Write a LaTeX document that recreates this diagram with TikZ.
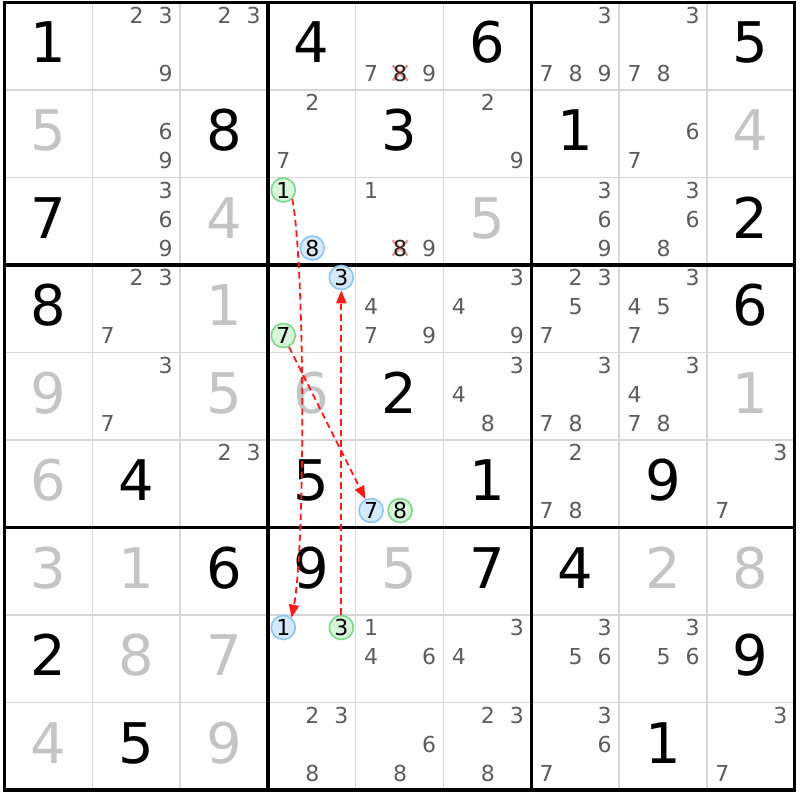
\documentclass[tikz,border=0pt]{standalone}
\usepackage{fontspec}
\setmainfont{DejaVu Sans}
\usetikzlibrary{arrows.meta,calc}
\definecolor{solved}{HTML}{C4C4C4}
\definecolor{candc}{HTML}{5C5C5C}
\definecolor{gridgrey}{HTML}{D6D6D6}
\definecolor{gdraw}{HTML}{7ED88B}
\definecolor{gfill}{HTML}{D6F5D9}
\definecolor{bdraw}{HTML}{8EC4F2}
\definecolor{bfill}{HTML}{D5E9FB}
\definecolor{arrred}{HTML}{FF1A1A}
\definecolor{xred}{HTML}{F29090}
\tikzset{
  given/.style={anchor=base,inner sep=0pt,font=\fontsize{56}{60}\selectfont,text=black},
  solvedd/.style={given,text=solved},
  cand/.style={inner sep=0pt,font=\fontsize{22}{24}\selectfont,text=candc},
  xcand/.style={cand,text=black!85},
  gc/.style={cand,text=black,circle,draw=gdraw,fill=gfill,line width=1.6pt,minimum size=24pt},
  bc/.style={cand,text=black,circle,draw=bdraw,fill=bfill,line width=1.6pt,minimum size=24pt},
  arr/.style={draw=arrred,line width=1.8pt,dash pattern=on 6.5pt off 4pt,-{Triangle[length=13pt,width=10pt,fill=arrred]}},
  xmark/.style={draw=xred,line width=2.5pt},
  thingrid/.style={draw=gridgrey,line width=1.5pt},
  thickgrid/.style={draw=black,line width=3.2pt},
}
\newcommand\GV[4][given]{%
  \pgfmathsetmacro\gx{4.5+87.8*#3+43.9}%
  \pgfmathsetmacro\gy{2.5+87.5*#2+60.5}%
  \node[#1] (g#2#3) at (\gx,\gy) {#4};}
\newcommand\CD[4][cand]{%
  \pgfmathsetmacro\cx{4.5+87.8*#3+15.4+29*mod(#4-1,3)}%
  \pgfmathsetmacro\cy{2.5+87.5*#2+12.5+29*floor((#4-1)/3)}%
  \node[#1] (c#2#3#4) at (\cx,\cy) {#4};}
\newcommand\XM[3]{%
  \pgfmathsetmacro\cx{4.5+87.8*#2+15.4+29*mod(#3-1,3)}%
  \pgfmathsetmacro\cy{2.5+87.5*#1+12.5+29*floor((#3-1)/3)}%
  \draw[xmark] ({\cx-7.5},{\cy-7.5}) -- ({\cx+7.5},{\cy+7.5});
  \draw[xmark] ({\cx-7.5},{\cy+7.5}) -- ({\cx+7.5},{\cy-7.5});}
\begin{document}
\begin{tikzpicture}[x=1pt,y=-1pt]
\fill[white] (0,0) rectangle (800,800);
\useasboundingbox (0,0) rectangle (800,800);
% thin grid
\foreach \i in {1,2,4,5,7,8}{
  \draw[thingrid] ({4.5+87.8*\i},2.5) -- ({4.5+87.8*\i},790);
  \draw[thingrid] (4.5,{2.5+87.5*\i}) -- (794.7,{2.5+87.5*\i});
}
\foreach \i in {0,3,6,9}{
  \draw[thickgrid] ({4.5+87.8*\i},0.9) -- ({4.5+87.8*\i},791.6);
  \draw[thickgrid] (2.9,{2.5+87.5*\i}) -- (796.3,{2.5+87.5*\i});
}
% row 0
\GV{0}{0}{1}
\foreach \d in {2,3,9}{\CD{0}{1}{\d}}
\foreach \d in {2,3}{\CD{0}{2}{\d}}
\GV{0}{3}{4}
\CD{0}{4}{7}\XM{0}{4}{8}\CD[xcand]{0}{4}{8}\CD{0}{4}{9}
\GV{0}{5}{6}
\foreach \d in {3,7,8,9}{\CD{0}{6}{\d}}
\foreach \d in {3,7,8}{\CD{0}{7}{\d}}
\GV{0}{8}{5}
% row 1
\GV[solvedd]{1}{0}{5}
\foreach \d in {6,9}{\CD{1}{1}{\d}}
\GV{1}{2}{8}
\foreach \d in {2,7}{\CD{1}{3}{\d}}
\GV{1}{4}{3}
\foreach \d in {2,9}{\CD{1}{5}{\d}}
\GV{1}{6}{1}
\foreach \d in {6,7}{\CD{1}{7}{\d}}
\GV[solvedd]{1}{8}{4}
% row 2
\GV{2}{0}{7}
\foreach \d in {3,6,9}{\CD{2}{1}{\d}}
\GV[solvedd]{2}{2}{4}
\CD[gc]{2}{3}{1}\CD[bc]{2}{3}{8}
\CD{2}{4}{1}\XM{2}{4}{8}\CD[xcand]{2}{4}{8}\CD{2}{4}{9}
\GV[solvedd]{2}{5}{5}
\foreach \d in {3,6,9}{\CD{2}{6}{\d}}
\foreach \d in {3,6,8}{\CD{2}{7}{\d}}
\GV{2}{8}{2}
% row 3
\GV{3}{0}{8}
\foreach \d in {2,3,7}{\CD{3}{1}{\d}}
\GV[solvedd]{3}{2}{1}
\CD[bc]{3}{3}{3}\CD[gc]{3}{3}{7}
\foreach \d in {4,7,9}{\CD{3}{4}{\d}}
\foreach \d in {3,4,9}{\CD{3}{5}{\d}}
\foreach \d in {2,3,5,7}{\CD{3}{6}{\d}}
\foreach \d in {3,4,5,7}{\CD{3}{7}{\d}}
\GV{3}{8}{6}
% row 4
\GV[solvedd]{4}{0}{9}
\foreach \d in {3,7}{\CD{4}{1}{\d}}
\GV[solvedd]{4}{2}{5}
\GV[solvedd]{4}{3}{6}
\GV{4}{4}{2}
\foreach \d in {3,4,8}{\CD{4}{5}{\d}}
\foreach \d in {3,7,8}{\CD{4}{6}{\d}}
\foreach \d in {3,4,7,8}{\CD{4}{7}{\d}}
\GV[solvedd]{4}{8}{1}
% row 5
\GV[solvedd]{5}{0}{6}
\GV{5}{1}{4}
\foreach \d in {2,3}{\CD{5}{2}{\d}}
\GV{5}{3}{5}
\CD[bc]{5}{4}{7}\CD[gc]{5}{4}{8}
\GV{5}{5}{1}
\foreach \d in {2,7,8}{\CD{5}{6}{\d}}
\GV{5}{7}{9}
\foreach \d in {3,7}{\CD{5}{8}{\d}}
% row 6
\GV[solvedd]{6}{0}{3}
\GV[solvedd]{6}{1}{1}
\GV{6}{2}{6}
\GV{6}{3}{9}
\GV[solvedd]{6}{4}{5}
\GV{6}{5}{7}
\GV{6}{6}{4}
\GV[solvedd]{6}{7}{2}
\GV[solvedd]{6}{8}{8}
% row 7
\GV{7}{0}{2}
\GV[solvedd]{7}{1}{8}
\GV[solvedd]{7}{2}{7}
\CD[bc]{7}{3}{1}\CD[gc]{7}{3}{3}
\foreach \d in {1,4,6}{\CD{7}{4}{\d}}
\foreach \d in {3,4}{\CD{7}{5}{\d}}
\foreach \d in {3,5,6}{\CD{7}{6}{\d}}
\foreach \d in {3,5,6}{\CD{7}{7}{\d}}
\GV{7}{8}{9}
% row 8
\GV[solvedd]{8}{0}{4}
\GV{8}{1}{5}
\GV[solvedd]{8}{2}{9}
\foreach \d in {2,3,8}{\CD{8}{3}{\d}}
\foreach \d in {6,8}{\CD{8}{4}{\d}}
\foreach \d in {2,3,8}{\CD{8}{5}{\d}}
\foreach \d in {3,6,7}{\CD{8}{6}{\d}}
\GV{8}{7}{1}
\foreach \d in {3,7}{\CD{8}{8}{\d}}
% links
\draw[arr] (c231.-45) .. controls ($(c231)+(22,80)$) and ($(c731)+(22,-80)$) .. (c731.50);
\draw[arr] (c733) -- (c333);
\draw[arr] (c337) -- (c547);
\end{tikzpicture}
\end{document}
